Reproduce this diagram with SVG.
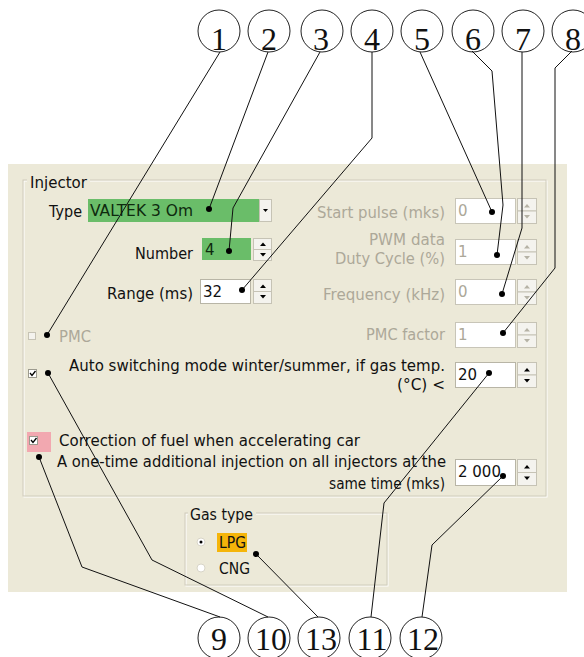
<svg xmlns="http://www.w3.org/2000/svg" width="584" height="657" viewBox="0 0 584 657">
<style>
.t{font-family:"DejaVu Sans",Verdana,sans-serif;font-size:15px;fill:#111}
.g{fill:#ACA899}
.n{font-family:"Liberation Serif","Times New Roman",serif;font-size:32px;fill:#111;text-anchor:middle}
.c{fill:none;stroke:#222;stroke-width:1}
.ln{fill:none;stroke:#111;stroke-width:1}
.dot{fill:#000}
.grp{fill:none;stroke:#D0CCBC;stroke-width:1}
.grpw{fill:none;stroke:#FFFFFF;stroke-width:1}
.fld{fill:#FFFFFF;stroke:#B8B5A6;stroke-width:1}
.fldd{fill:#FFFFFF;stroke:#C8C5B8;stroke-width:1}
.spin{fill:#F4F3EE;stroke:#C6C3B5;stroke-width:1}
.ar{fill:#000}
.ard{fill:#B5B2A5}
</style>
<rect id="panel" x="8" y="164" width="559" height="428" fill="#ECE9D8"/>

<g id="injector-box">
<rect class="grpw" x="24" y="181" width="523" height="316"/>
<rect class="grp" x="23" y="180" width="523" height="316"/>
<rect x="27" y="174" width="63" height="14" fill="#ECE9D8"/>
<text class="t" x="30" y="188" textLength="57" lengthAdjust="spacingAndGlyphs">Injector</text>
</g>

<g id="type">
<text class="t" x="49" y="217" textLength="33" lengthAdjust="spacingAndGlyphs">Type</text>
<rect x="88" y="199" width="172" height="23" fill="#6ABD69"/>
<text class="t" x="90" y="216" textLength="103" lengthAdjust="spacingAndGlyphs" style="fill:#0E2A0E">VALTEK 3 Om</text>
<rect class="spin" x="259.5" y="199.5" width="12" height="22"/>
<polygon class="ar" points="263,209 268,209 265.5,212"/>
</g>

<g id="number">
<text class="t" x="135" y="259" textLength="58" lengthAdjust="spacingAndGlyphs">Number</text>
<rect x="202" y="238" width="49" height="22" fill="#6ABD69"/>
<text class="t" x="205" y="255" style="fill:#0E2A0E">4</text>
<rect class="spin" x="253.5" y="238.5" width="18" height="11"/>
<rect class="spin" x="253.5" y="249.5" width="18" height="11"/>
<polygon class="ar" points="260,246 266,246 263,242.5"/>
<polygon class="ar" points="260,253 266,253 263,256.5"/>
</g>

<g id="range">
<text class="t" x="107" y="299" textLength="86" lengthAdjust="spacingAndGlyphs">Range (ms)</text>
<rect class="fld" x="200.5" y="279.5" width="50" height="24"/>
<text class="t" x="203" y="297">32</text>
<rect class="spin" x="253.5" y="279.5" width="18" height="12"/>
<rect class="spin" x="253.5" y="291.5" width="18" height="12"/>
<polygon class="ar" points="260,288 266,288 263,284.5"/>
<polygon class="ar" points="260,295 266,295 263,298.5"/>
</g>

<g id="start-pulse">
<text class="t g" x="445" y="218" text-anchor="end" textLength="128" lengthAdjust="spacingAndGlyphs">Start pulse (mks)</text>
<rect class="fldd" x="455.5" y="198.5" width="60" height="25"/>
<text class="t g" x="458" y="216">0</text>
<rect class="spin" x="517.5" y="198.5" width="19" height="12.5"/>
<rect class="spin" x="517.5" y="211" width="19" height="12.5"/>
<polygon class="ard" points="524,207.5 530,207.5 527,204"/>
<polygon class="ard" points="524,215 530,215 527,218.5"/>
</g>

<g id="pwm">
<text class="t g" x="445" y="245" text-anchor="end" textLength="76" lengthAdjust="spacingAndGlyphs">PWM data</text>
<text class="t g" x="445" y="264" text-anchor="end" textLength="110" lengthAdjust="spacingAndGlyphs">Duty Cycle (%)</text>
<rect class="fldd" x="455.5" y="239.5" width="60" height="25"/>
<text class="t g" x="458" y="257">1</text>
<rect class="spin" x="517.5" y="239.5" width="19" height="12.5"/>
<rect class="spin" x="517.5" y="252" width="19" height="12.5"/>
<polygon class="ard" points="524,248.5 530,248.5 527,245"/>
<polygon class="ard" points="524,256 530,256 527,259.5"/>
</g>

<g id="frequency">
<text class="t g" x="445" y="300" text-anchor="end" textLength="122" lengthAdjust="spacingAndGlyphs">Frequency (kHz)</text>
<rect class="fldd" x="455.5" y="279.5" width="60" height="25"/>
<text class="t g" x="458" y="297">0</text>
<rect class="spin" x="517.5" y="279.5" width="19" height="12.5"/>
<rect class="spin" x="517.5" y="292" width="19" height="12.5"/>
<polygon class="ard" points="524,288.5 530,288.5 527,285"/>
<polygon class="ard" points="524,296 530,296 527,299.5"/>
</g>

<g id="pmc-factor">
<text class="t g" x="445" y="340" text-anchor="end" textLength="79" lengthAdjust="spacingAndGlyphs">PMC factor</text>
<rect class="fldd" x="455.5" y="322.5" width="60" height="25"/>
<text class="t g" x="458" y="340">1</text>
<rect class="spin" x="517.5" y="322.5" width="19" height="12.5"/>
<rect class="spin" x="517.5" y="335" width="19" height="12.5"/>
<polygon class="ard" points="524,331.5 530,331.5 527,328"/>
<polygon class="ard" points="524,339 530,339 527,342.5"/>
</g>

<g id="pmc">
<rect x="28.5" y="332.5" width="7" height="7" fill="#F4F3EE" stroke="#C6C3B5"/>
<text class="t g" x="59" y="342" textLength="32" lengthAdjust="spacingAndGlyphs">PMC</text>
</g>

<g id="auto-switch">
<rect x="28.5" y="369.5" width="8" height="8" fill="#FFFFFF" stroke="#9C9A8E"/>
<polyline points="30,373 32,375.5 35.5,371" fill="none" stroke="#000" stroke-width="1.3"/>
<text class="t" x="69" y="371" textLength="376" lengthAdjust="spacingAndGlyphs">Auto switching mode winter/summer, if gas temp.</text>
<text class="t" x="445" y="390" text-anchor="end" textLength="48" lengthAdjust="spacingAndGlyphs">(°C) &lt;</text>
<rect class="fld" x="455.5" y="362.5" width="60" height="25"/>
<text class="t" x="458" y="380">20</text>
<rect class="spin" x="517.5" y="362.5" width="19" height="12.5"/>
<rect class="spin" x="517.5" y="375" width="19" height="12.5"/>
<polygon class="ar" points="524,371.5 530,371.5 527,368"/>
<polygon class="ar" points="524,379 530,379 527,382.5"/>
</g>

<g id="correction">
<rect x="27" y="432" width="24" height="20" fill="#F2A8B0"/>
<rect x="29.5" y="436.5" width="8" height="8" fill="#FFFFFF" stroke="#9C9A8E"/>
<polyline points="31,440 33,442.5 36.5,438" fill="none" stroke="#000" stroke-width="1.3"/>
<text class="t" x="59" y="446" textLength="301" lengthAdjust="spacingAndGlyphs">Correction of fuel when accelerating car</text>
</g>

<g id="one-time">
<text class="t" x="57" y="467" textLength="389" lengthAdjust="spacingAndGlyphs">A one-time additional injection on all injectors at the</text>
<text class="t" x="445" y="489" text-anchor="end" textLength="116" lengthAdjust="spacingAndGlyphs">same time (mks)</text>
<rect class="fld" x="455.5" y="459.5" width="60" height="26"/>
<text class="t" x="458" y="477">2 000</text>
<rect class="spin" x="517.5" y="459.5" width="19" height="13"/>
<rect class="spin" x="517.5" y="472.5" width="19" height="13"/>
<polygon class="ar" points="524,468.5 530,468.5 527,465"/>
<polygon class="ar" points="524,476.5 530,476.5 527,480"/>
</g>

<g id="gas-type">
<rect class="grpw" x="186" y="514" width="202" height="72"/>
<rect class="grp" x="185" y="513" width="202" height="72"/>
<rect x="188" y="506" width="68" height="14" fill="#ECE9D8"/>
<text class="t" x="190" y="520" textLength="63" lengthAdjust="spacingAndGlyphs">Gas type</text>
<circle cx="201" cy="542" r="4" fill="#FFFFFF" stroke="#D8D5C8"/>
<circle cx="201" cy="542" r="1.5" fill="#000"/>
<rect x="217" y="533" width="30" height="19" fill="#F5B50A"/>
<text class="t" x="219" y="548" textLength="27" lengthAdjust="spacingAndGlyphs">LPG</text>
<circle cx="201" cy="568" r="4" fill="#FFFFFF" stroke="#D8D5C8"/>
<text class="t" x="219" y="574" textLength="31" lengthAdjust="spacingAndGlyphs">CNG</text>
</g>

<g id="callouts">
<g id="c1"><circle class="c" cx="219" cy="31" r="21"/><text class="n" x="219" y="50">1</text></g>
<g id="c2"><circle class="c" cx="269" cy="31" r="21"/><text class="n" x="269" y="50">2</text></g>
<g id="c3"><circle class="c" cx="322" cy="31" r="21"/><text class="n" x="321" y="50">3</text></g>
<g id="c4"><circle class="c" cx="372" cy="31" r="21"/><text class="n" x="372" y="50">4</text></g>
<g id="c5"><circle class="c" cx="422" cy="31" r="21"/><text class="n" x="422" y="50">5</text></g>
<g id="c6"><circle class="c" cx="473" cy="31" r="21"/><text class="n" x="473" y="50">6</text></g>
<g id="c7"><circle class="c" cx="523" cy="31" r="21"/><text class="n" x="523" y="50">7</text></g>
<g id="c8"><circle class="c" cx="573" cy="31" r="21"/><text class="n" x="573" y="50">8</text></g>
<g id="c9"><circle class="c" cx="219" cy="638" r="21"/><text class="n" x="219" y="650">9</text></g>
<g id="c10"><circle class="c" cx="269" cy="638" r="21"/><text class="n" x="271" y="650">10</text></g>
<g id="c13"><circle class="c" cx="319" cy="638" r="21"/><text class="n" x="321" y="650">13</text></g>
<g id="c11"><circle class="c" cx="370" cy="638" r="21"/><text class="n" x="372" y="650">11</text></g>
<g id="c12"><circle class="c" cx="421" cy="638" r="21"/><text class="n" x="423" y="650">12</text></g>
</g>

<g id="connectors">
<path class="ln" d="M220,52 L47,335"/>
<path class="ln" d="M268,52 L209,209"/>
<path class="ln" d="M320,52 L233,208 L229,251"/>
<path class="ln" d="M372,52 L372,138 L242,290"/>
<path class="ln" d="M420,52 L492,212"/>
<path class="ln" d="M472,51 L492,71 L503,205 L497,255"/>
<path class="ln" d="M522,52 L522,228 L502,294"/>
<path class="ln" d="M572,51 L555,68 L555,268 L503,333"/>
<path class="ln" d="M220,617 L82,567 L39,457"/>
<path class="ln" d="M268,617 L152,560 L48,373"/>
<path class="ln" d="M371,617 L384,503 L489,373"/>
<path class="ln" d="M422,617 L432,545 L503,476"/>
<path class="ln" d="M256,554 L318,617"/>
<circle class="dot" cx="47" cy="335" r="3"/>
<circle class="dot" cx="209" cy="209" r="3"/>
<circle class="dot" cx="229" cy="251" r="3"/>
<circle class="dot" cx="242" cy="290" r="3"/>
<circle class="dot" cx="492" cy="212" r="3"/>
<circle class="dot" cx="497" cy="255" r="3"/>
<circle class="dot" cx="502" cy="294" r="3"/>
<circle class="dot" cx="503" cy="333" r="3"/>
<circle class="dot" cx="39" cy="457" r="3"/>
<circle class="dot" cx="48" cy="373" r="3"/>
<circle class="dot" cx="489" cy="373" r="3"/>
<circle class="dot" cx="503" cy="476" r="3"/>
<circle class="dot" cx="256" cy="554" r="3"/>
</g>
</svg>
